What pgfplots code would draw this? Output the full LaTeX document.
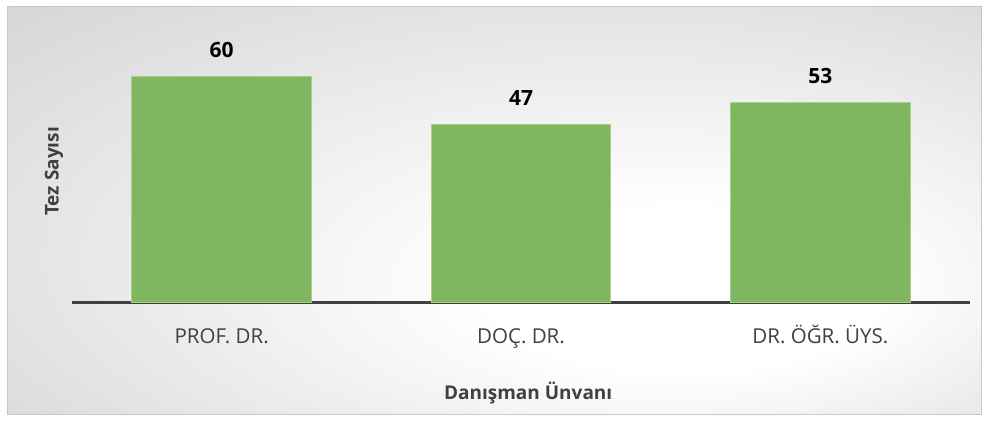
\documentclass[border=0pt]{standalone}
\usepackage{pgfplots}
\pgfplotsset{compat=1.18}
\usepackage{fontspec}
\setmainfont{Open Sans}
\definecolor{barfill}{HTML}{7FB65F}
\definecolor{baredge}{HTML}{A9D18E}
\definecolor{txt}{HTML}{404040}
\definecolor{frame}{HTML}{C8C8C8}
\pgfdeclareradialshading{bgshade}{\pgfpoint{12bp}{-12bp}}{color(0bp)=(white); color(10bp)=(white); color(55bp)=(gray!48)}
\begin{document}
\begin{tikzpicture}[x=1pt,y=1pt]
\useasboundingbox (0,0) rectangle (988,421);
\fill[white] (0,0) rectangle (988,421);
\shade[shading=bgshade] (7,7) rectangle (981,414);
\draw[frame, line width=1pt] (7,7) rectangle (981,414);
\begin{axis}[
  at={(72pt,119pt)}, anchor=south west,
  scale only axis, width=898pt, height=282.5pt,
  xmin=-0.5, xmax=2.5, ymin=0, ymax=75,
  axis x line=bottom, axis y line=left,
  x axis line style={line width=3pt, color=txt, -},
  y axis line style={draw=none},
  ytick=\empty,
  xtick=data,
  xticklabels={PROF. DR., DOÇ. DR., DR. ÖĞR. ÜYS.},
  major tick length=0pt,
  xticklabel style={font=\fontsize{20.5}{24}\selectfont, text=txt, anchor=base, yshift=-41pt},
  ybar, bar width=0.6,
  nodes near coords,
  /pgf/number format/assume math mode=true,
  nodes near coords style={font=\bfseries\fontsize{21}{24}\selectfont, text=black, anchor=base, inner sep=0pt, yshift=19pt},
  xlabel={Danışman Ünvanı},
  xlabel style={font=\bfseries\fontsize{19}{22}\selectfont, text=txt, at={(axis description cs:0.508,-0.322)}, anchor=center},
  ylabel={Tez Sayısı},
  ylabel style={font=\bfseries\fontsize{19}{22}\selectfont, text=txt, at={(axis description cs:-0.02,0.462)}, anchor=center},
  clip=false,
]
\addplot[fill=barfill, draw=baredge, line width=1pt] coordinates {(0,60) (1,47) (2,53)};
\end{axis}
\end{tikzpicture}
\end{document}
